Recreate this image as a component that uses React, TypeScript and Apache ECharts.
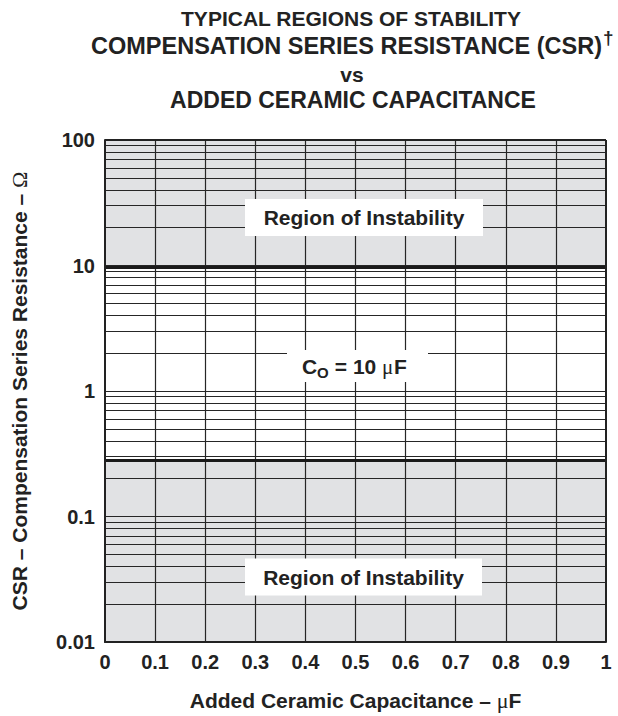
import React, { useEffect, useRef } from "react";
import * as echarts from "echarts";

// ---- data ----
const titleLine1 = "TYPICAL REGIONS OF STABILITY";
const titleLine2 = "COMPENSATION SERIES RESISTANCE (CSR)";
const titleDagger = "†";
const titleLine3 = "vs";
const titleLine4 = "ADDED CERAMIC CAPACITANCE";

const xTickValues = [0, 0.1, 0.2, 0.3, 0.4, 0.5, 0.6, 0.7, 0.8, 0.9, 1];
const xTickLabels = ["0", "0.1", "0.2", "0.3", "0.4", "0.5", "0.6", "0.7", "0.8", "0.9", "1"];
const yDecades = [0.01, 0.1, 1, 10, 100];
const yTickLabels = ["0.01", "0.1", "1", "10", "100"];
const yMinorMultipliers = [2, 3, 4, 5, 6, 7, 8, 9];

const stableUpperCSR = 9.6; // Ω, upper boundary of stable region
const stableLowerCSR = 0.28; // Ω, lower boundary of stable region

const regionLabel = "Region of Instability";
const coLabelMain = "C";
const coLabelSub = "O";
const coLabelRest = " = 10 ";
const coLabelMu = "μ";
const coLabelUnit = "F";

const xAxisName = "Added Ceramic Capacitance – ";
const yAxisName = "CSR – Compensation Series Resistance – ";

// ---- styles ----
const FONT = "'Liberation Sans', Arial, Helvetica, sans-serif";
const SERIF = "'Liberation Serif', 'DejaVu Serif', serif";
const INK = "#222222";
const GRAY = "#e1e2e4";

export default function App() {
  const ref = useRef<HTMLDivElement>(null);

  useEffect(() => {
    document.body.style.margin = "0";
    if (!ref.current) return;
    const chart = echarts.init(ref.current, undefined, { renderer: "svg" });

    const minorLines: number[] = [];
    yDecades.slice(0, -1).forEach((d) => {
      yMinorMultipliers.forEach((m) => minorLines.push(+(d * m).toPrecision(3)));
    });

    const gridL = 103, gridT = 140, gridW = 503, gridH = 503;
    const Z = 100;

    const txt = (x: number, y: number, text: string, font: string, align = "center") => ({
      type: "text",
      z: Z + 1,
      x,
      y,
      style: { text, font, fill: INK, textAlign: align, textVerticalAlign: "middle" },
    });
    const box = (x: number, y: number, w: number, h: number) => ({
      type: "rect",
      z: Z,
      shape: { x, y, width: w, height: h },
      style: { fill: "#ffffff" },
    });

    const option: any = {
      animation: false,
      backgroundColor: "#ffffff",
      grid: { left: gridL, top: gridT, width: gridW, height: gridH, containLabel: false },
      xAxis: {
        type: "value",
        min: 0,
        max: 1,
        interval: 0.1,
        z: 10,
        axisLine: { show: true, lineStyle: { color: INK, width: 2 } },
        axisTick: { show: false },
        splitLine: { show: false },
        axisLabel: {
          margin: 10,
          fontFamily: FONT,
          fontWeight: "bold",
          fontSize: 20,
          color: INK,
          formatter: (v: number) => {
            const i = xTickValues.findIndex((t) => Math.abs(t - v) < 1e-6);
            return i >= 0 ? xTickLabels[i] : "";
          },
        },
        name: `{t|${xAxisName}}{m|μ}{t|F}`,
        nameLocation: "middle",
        nameGap: 47,
        nameTextStyle: {
          rich: {
            t: { fontFamily: FONT, fontWeight: "bold", fontSize: 21, color: INK },
            m: { fontFamily: SERIF, fontWeight: "normal", fontSize: 22, color: INK },
          },
        },
      },
      yAxis: {
        type: "log",
        logBase: 10,
        min: 0.01,
        max: 100,
        z: 10,
        axisLine: { show: true, lineStyle: { color: INK, width: 2 } },
        axisTick: { show: false },
        splitLine: { show: false },
        minorSplitLine: { show: false },
        axisLabel: {
          margin: 10,
          fontFamily: FONT,
          fontWeight: "bold",
          fontSize: 20,
          color: INK,
          formatter: (v: number) => {
            const i = Math.round(Math.log10(v)) + 2;
            return yTickLabels[i] ?? "";
          },
        },
        name: `{t|${yAxisName}}{m|Ω}`,
        nameLocation: "middle",
        nameGap: 75,
        nameRotate: 90,
        nameTextStyle: {
          rich: {
            t: { fontFamily: FONT, fontWeight: "bold", fontSize: 21, color: INK },
            m: { fontFamily: SERIF, fontWeight: "normal", fontSize: 22, color: INK },
          },
        },
      },
      series: [
        {
          type: "line",
          data: [],
          z: 1,
          silent: true,
          markArea: {
            silent: true,
            itemStyle: { color: GRAY },
            data: [
              [{ yAxis: stableUpperCSR }, { yAxis: 100 }],
              [{ yAxis: 0.01 }, { yAxis: stableLowerCSR }],
            ],
          },
        },
        {
          type: "line",
          data: [],
          z: 2,
          silent: true,
          markLine: {
            silent: true,
            symbol: "none",
            label: { show: false },
            lineStyle: { color: "#262626", width: 1.2, type: "solid" },
            data: [
              ...minorLines.map((v) => ({ yAxis: v })),
              ...yDecades.slice(1, -1).map((v) => ({ yAxis: v })),
              ...xTickValues.slice(1, -1).map((v) => ({ xAxis: v })),
            ],
          },
        },
        {
          type: "line",
          data: [],
          z: 3,
          silent: true,
          markLine: {
            silent: true,
            symbol: "none",
            label: { show: false },
            lineStyle: { color: "#1a1a1a", width: 3.2, type: "solid" },
            data: [{ yAxis: stableUpperCSR }, { yAxis: stableLowerCSR }],
          },
        },
        {
          type: "line",
          data: [],
          z: 4,
          silent: true,
          markLine: {
            silent: true,
            symbol: "none",
            label: { show: false },
            lineStyle: { color: INK, width: 2, type: "solid" },
            data: [{ yAxis: 100 }, { xAxis: 1 }],
          },
        },
      ],
      graphic: [
        txt(351, 18, titleLine1, `bold 21px ${FONT}`),
        txt(602, 46, titleLine2, `bold 23.5px ${FONT}`, "right"),
        txt(603, 37, titleDagger, `bold 19px ${FONT}`, "left"),
        txt(352, 74, titleLine3, `bold 21px ${FONT}`),
        txt(353, 100, titleLine4, `bold 23px ${FONT}`),

        box(245, 199, 238, 37),
        txt(364, 217.5, regionLabel, `bold 21px ${FONT}`),
        box(245, 558.5, 237, 37),
        txt(363.5, 577, regionLabel, `bold 21px ${FONT}`),

        box(287, 350, 141, 32),
        txt(302, 366, coLabelMain, `bold 21px ${FONT}`, "left"),
        txt(317, 372, coLabelSub, `bold 15px ${FONT}`, "left"),
        txt(329, 366, coLabelRest, `bold 21px ${FONT}`, "left"),
        txt(382, 367, coLabelMu, `21px ${SERIF}`, "left"),
        txt(394, 366, coLabelUnit, `bold 21px ${FONT}`, "left"),
      ],
    };

    chart.setOption(option);
    return () => chart.dispose();
  }, []);

  return <div ref={ref} style={{ width: 618, height: 716 }} />;
}
